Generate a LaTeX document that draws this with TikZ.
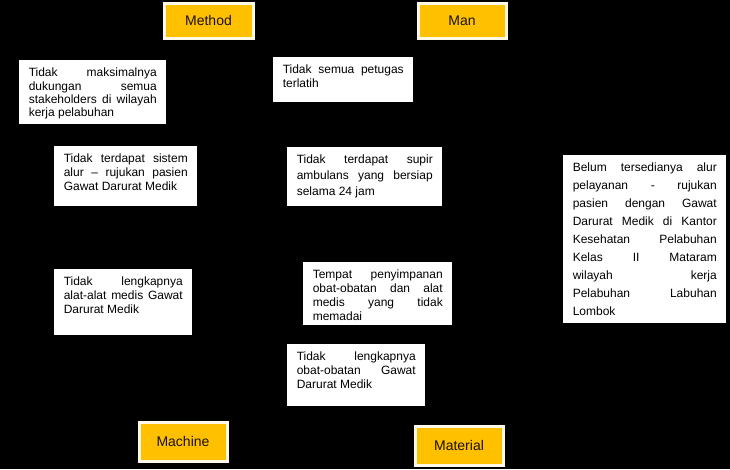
\documentclass[tikz,border=0pt]{standalone}
\usepackage{fontspec}
\setmainfont{Liberation Sans}
\newdimen\px \px=0.75pt
\definecolor{catfill}{HTML}{FFC000}
\definecolor{catline}{HTML}{FFF8E6}
\definecolor{cattext}{HTML}{1A1208}
\hyphenpenalty=10000 \exhyphenpenalty=10000
\tikzset{
  tb/.style={anchor=north west, fill=white, draw=none, inner xsep=9.5\px, inner ysep=8\px},
  cat/.style={anchor=north west, fill=catfill, draw=catline, line width=3\px, inner sep=0pt,
    text=cattext, font=\fontsize{10.5}{12}\selectfont}
}
\newcommand{\tbox}[7]{%
  \node[tb] (#1) at (#2,#3) {\begin{minipage}[t][\dimexpr#5\px-16\px\relax][t]{\dimexpr#4\px-19\px\relax}\fontsize{9}{#6}\selectfont #7\end{minipage}};}
\newcommand{\catbox}[6]{%
  \node[cat, minimum width=\dimexpr#4\px-3\px\relax, minimum height=\dimexpr#5\px-3\px\relax] (#1) at (#2+1.5,#3+1.5) {#6};}
\begin{document}
\begin{tikzpicture}[x=0.75pt,y=-0.75pt]
\fill[black] (0,0) rectangle (730,469);
\useasboundingbox (0,0) rectangle (730,469);
\catbox{method}{161}{0}{92}{38}{Method}
\catbox{man}{415}{0}{91}{38}{Man}
\catbox{machine}{136}{419}{91}{42}{Machine}
\catbox{material}{412}{423}{91}{42}{Material}
\tbox{b1}{19}{60}{147}{64}{10pt}{Tidak maksimalnya\linebreak dukungan semua\linebreak stakeholders di wilayah\linebreak kerja pelabuhan}
\tbox{b2}{273}{57}{140}{45}{10pt}{Tidak semua petugas\linebreak terlatih}
\tbox{b3}{54}{146}{143}{60}{10.5pt}{Tidak terdapat sistem\linebreak alur -- rujukan pasien\linebreak Gawat Darurat Medik}
\tbox{b4}{287}{147}{155}{59}{12pt}{Tidak terdapat supir\linebreak ambulans yang bersiap\linebreak selama 24 jam}
\tbox{b5}{54}{269}{138}{66}{10.5pt}{Tidak lengkapnya\linebreak alat-alat medis Gawat\linebreak Darurat Medik}
\tbox{b6}{303}{262}{149}{63}{10.5pt}{Tempat penyimpanan\linebreak obat-obatan dan alat\linebreak medis yang tidak\linebreak memadai}
\tbox{b7}{287}{344}{138}{62}{10.5pt}{Tidak lengkapnya\linebreak obat-obatan Gawat\linebreak Darurat Medik}
\tbox{big}{563}{155}{163}{168}{13.5pt}{Belum tersedianya alur\linebreak pelayanan - rujukan\linebreak pasien dengan Gawat\linebreak Darurat Medik di Kantor\linebreak Kesehatan Pelabuhan\linebreak Kelas II Mataram\linebreak wilayah kerja\linebreak Pelabuhan Labuhan\linebreak Lombok}
\end{tikzpicture}
\end{document}
